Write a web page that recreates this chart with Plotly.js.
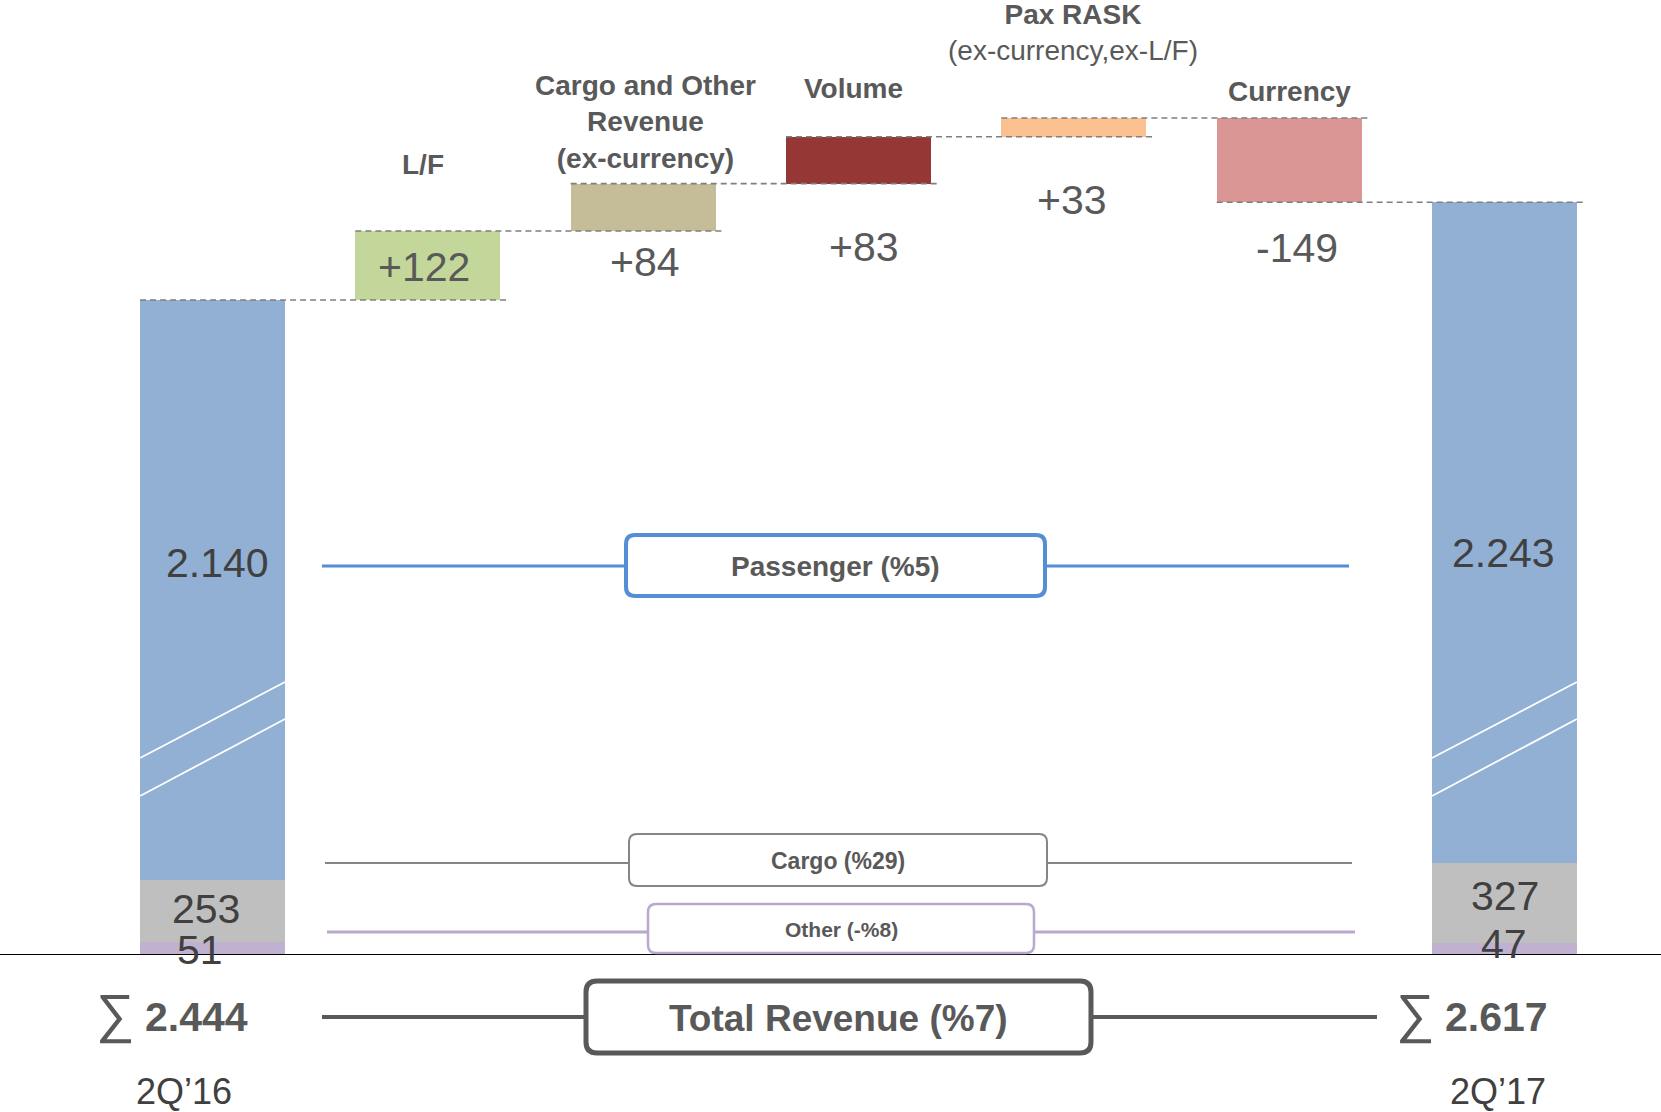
<!DOCTYPE html>
<html>
<head>
<meta charset="utf-8">
<script src="https://cdn.plot.ly/plotly-3.0.1.min.js"></script>
<style>
  html, body { margin: 0; padding: 0; background: #ffffff; }
  #chart { width: 1661px; height: 1112px; }
</style>
</head>
<body>
<div id="chart"></div>
<script>
// Revenue bridge 2Q'16 -> 2Q'17 (TL million)
const periods = ['2Q\u201916', '2Q\u201917'];
const passenger = [2140, 2243];
const cargo = [253, 327];
const other = [51, 47];

const bridgeLabels = [
  '<b>L/F</b>',
  '<b>Cargo and Other<br>Revenue<br>(ex-currency)</b>',
  '<b>Volume</b>',
  '<b>Pax RASK</b><br>(ex-currency,ex-L/F)',
  '<b>Currency</b>'
];
const bridgeDeltas = [122, 84, 83, 33, -149];

const segmentNames = ['Passenger', 'Cargo', 'Other', 'Total Revenue'];
const segmentGrowth = [5, 29, -8, 7];

// ---- styling ----
const W = 1661, H = 1112, MB = 158;
const PLOT_H = H - MB;
const FONT = 'Liberation Sans, Arial, sans-serif';
const TXT = '#595959';
const NUM = '#404040';
const BLUE = '#92afd4';
const GREY = '#bfbfbf';
const PURPLE = '#bfb1cf';
const bridgeColors = ['#c4d79b', '#c4bd97', '#953735', '#fac090', '#d99694'];
const BW = 0.673;

const px = x => x / W;
const py = y => (PLOT_H - y) / PLOT_H;
const fmt = n => String(n).replace(/\B(?=(\d{3})+(?!\d))/g, '.');
const signed = n => (n > 0 ? '+' : '') + n;
const pct = v => (v < 0 ? '-%' + Math.abs(v) : '%' + v);

const totals = passenger.map((p, i) => p + cargo[i] + other[i]);
const lowerStack = cargo.map((c, i) => c + other[i]);

// running level after each bar of the bridge
const levels = [totals[0]];
bridgeDeltas.forEach(d => levels.push(levels[levels.length - 1] + d));
const bases = levels.slice(0, bridgeDeltas.length);
const xEnds = [0, 6];
const xBridge = bridgeDeltas.map((_, i) => i + 1);

const traces = [];
// lower (broken) part of the end columns
traces.push({ type: 'bar', x: xEnds, y: other, width: BW, xaxis: 'x', yaxis: 'y',
  marker: { color: PURPLE, line: { width: 0 } }, hoverinfo: 'skip' });
traces.push({ type: 'bar', x: xEnds, y: cargo, width: BW, xaxis: 'x', yaxis: 'y',
  marker: { color: GREY, line: { width: 0 } }, hoverinfo: 'skip' });
traces.push({ type: 'bar', x: xEnds, y: passenger, width: BW, xaxis: 'x', yaxis: 'y',
  marker: { color: BLUE, line: { width: 0 } }, hoverinfo: 'skip' });
// upper part: passenger column continues to total
traces.push({ type: 'bar', x: xEnds, y: passenger, base: lowerStack, width: BW, xaxis: 'x', yaxis: 'y2',
  marker: { color: BLUE, line: { width: 0 } }, hoverinfo: 'skip' });
// bridge steps
traces.push({ type: 'bar', x: xBridge, y: bridgeDeltas, base: bases, width: BW, xaxis: 'x', yaxis: 'y2',
  marker: { color: bridgeColors, line: { width: 0 } }, hoverinfo: 'skip' });
// dashed connectors
const cx = [], cy = [];
levels.forEach((lv, k) => {
  cx.push(k - BW / 2, k + 1 + BW / 2 + 0.03, null);
  cy.push(lv, lv, null);
});
traces.push({ type: 'scatter', mode: 'lines', x: cx, y: cy, xaxis: 'x', yaxis: 'y2',
  line: { color: '#7f7f7f', width: 1.6, dash: '6px,4px' }, hoverinfo: 'skip' });

// ---- annotations ----
const ann = [];
const addText = (text, x, y, size, color, extra) => ann.push(Object.assign({
  text, x: px(x), y: py(y), xref: 'paper', yref: 'paper', showarrow: false,
  xanchor: 'center', yanchor: 'middle', font: { family: FONT, size, color }
}, extra || {}));

// bridge headings
const headPos = [[423, 164], [645, 122], [853, 88], [1073, 32], [1289, 91]];
bridgeLabels.forEach((t, i) => addText(t, headPos[i][0], headPos[i][1], 28, TXT));
// bridge values
const valPos = [[424, 267], [645, 262], [864, 247], [1072, 200], [1297, 248]];
bridgeDeltas.forEach((d, i) => addText(signed(d), valPos[i][0], valPos[i][1], 41, TXT));

// end column segment values
addText(fmt(passenger[0]), 217, 563, 41, NUM);
addText(fmt(passenger[1]), 1503, 553, 41, NUM);
addText(fmt(cargo[0]), 206, 909, 41, NUM);
addText(fmt(cargo[1]), 1505, 896, 41, NUM);
addText(fmt(other[0]), 200, 950, 41, NUM);
addText(fmt(other[1]), 1504, 944, 41, NUM);

// totals and period labels
addText('\u2211', 115, 1013, 54, TXT);
addText('<b>' + fmt(totals[0]) + '</b>', 196, 1017, 41, TXT);
addText('\u2211', 1415, 1013, 54, TXT);
addText('<b>' + fmt(totals[1]) + '</b>', 1496, 1017, 41, TXT);
addText(periods[0], 184, 1091, 36, NUM);
addText(periods[1], 1498, 1091, 36, NUM);

// ---- segment growth call-outs ----
const shapes = [];
function roundRect(x0, y0, x1, y1, r) {
  const P = (x, y) => px(x) + ',' + py(y);
  return 'M' + P(x0 + r, y0) + ' L' + P(x1 - r, y0) + ' Q' + P(x1, y0) + ' ' + P(x1, y0 + r) +
    ' L' + P(x1, y1 - r) + ' Q' + P(x1, y1) + ' ' + P(x1 - r, y1) +
    ' L' + P(x0 + r, y1) + ' Q' + P(x0, y1) + ' ' + P(x0, y1 - r) +
    ' L' + P(x0, y0 + r) + ' Q' + P(x0, y0) + ' ' + P(x0 + r, y0) + ' Z';
}
const callouts = [
  { line: [322, 1349, 566], box: [626, 535, 1045, 596], color: '#558ed5', lw: 3, bw: 4, r: 9, size: 28 },
  { line: [325, 1352, 863], box: [629, 834, 1047, 886], color: '#858585', lw: 2, bw: 2, r: 8, size: 23 },
  { line: [327, 1355, 932], box: [648, 904, 1034, 953], color: '#b9a9cc', lw: 3, bw: 2.5, r: 8, size: 21 },
  { line: [322, 1377, 1017], box: [586, 981, 1091, 1053], color: '#595959', lw: 4, bw: 5, r: 11, size: 37 }
];
callouts.forEach((c, i) => {
  shapes.push({ type: 'line', xref: 'paper', yref: 'paper', x0: px(c.line[0]), x1: px(c.line[1]),
    y0: py(c.line[2]), y1: py(c.line[2]), line: { color: c.color, width: c.lw } });
  shapes.push({ type: 'path', xref: 'paper', yref: 'paper', path: roundRect(...c.box, c.r),
    fillcolor: '#ffffff', line: { color: c.color, width: c.bw } });
  addText('<b>' + segmentNames[i] + ' (' + pct(segmentGrowth[i]) + ')</b>',
    (c.box[0] + c.box[2]) / 2, (c.box[1] + c.box[3]) / 2 + 1, c.size, TXT);
});

// axis-break marks on the end columns
xEnds.forEach(xc => {
  [[758, 682], [796, 719]].forEach(([ya, yb]) => {
    shapes.push({ type: 'line', xref: 'x', yref: 'paper', x0: xc - BW / 2, x1: xc + BW / 2,
      y0: py(ya), y1: py(yb), line: { color: '#ffffff', width: 1.8 } });
  });
});

const JOIN = 740; // pixel row where the lower and upper scales meet
const lowScale = 0.2435, highScale = 0.565;
const yTop = totals[0] + 300 / highScale;

const layout = {
  width: W, height: H,
  margin: { l: 0, r: 0, t: 0, b: MB, pad: 0 },
  paper_bgcolor: '#ffffff', plot_bgcolor: '#ffffff',
  showlegend: false,
  barmode: 'stack',
  xaxis: { range: [-0.987, 6.727], showgrid: false, zeroline: false, showticklabels: false,
    ticks: '', showline: true, linecolor: '#000000', linewidth: 1.3, anchor: 'y', fixedrange: true },
  yaxis: { domain: [0, py(JOIN)], range: [0, (PLOT_H - JOIN) / lowScale], visible: false, fixedrange: true },
  yaxis2: { domain: [py(JOIN), 1], range: [yTop - JOIN / highScale, yTop], visible: false, anchor: 'x', fixedrange: true },
  annotations: ann,
  shapes: shapes,
  font: { family: FONT }
};

Plotly.newPlot('chart', traces, layout, { staticPlot: true, displayModeBar: false });
</script>
</body>
</html>
